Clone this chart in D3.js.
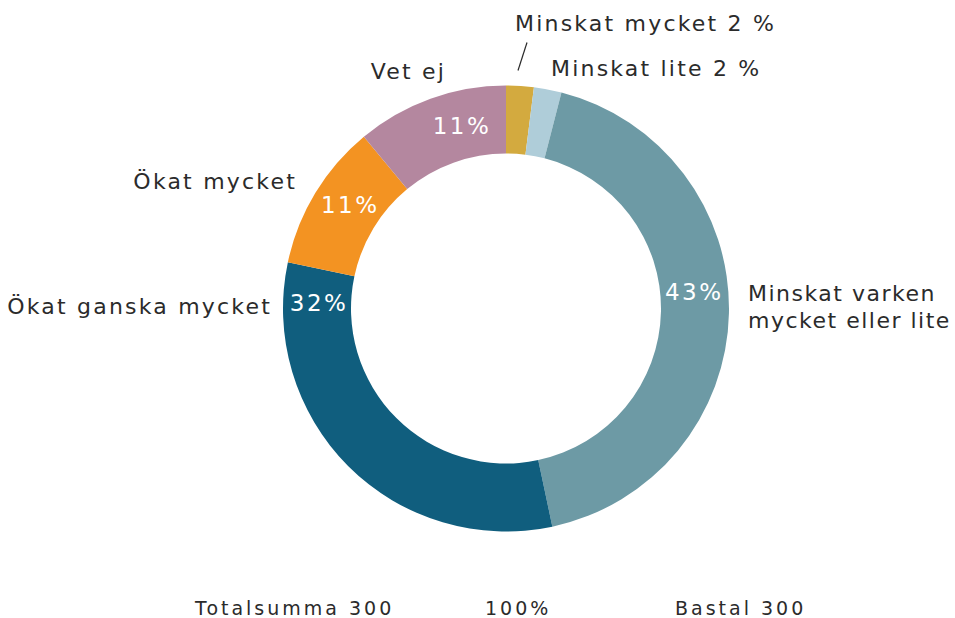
<!DOCTYPE html>
<html lang="sv">
<head>
<meta charset="UTF-8">
<title>Donut</title>
<script src="https://d3js.org/d3.v7.min.js"></script>
<style>
  body { margin: 0; background: #fff; }
  text { font-family: "DejaVu Sans", sans-serif; }
</style>
</head>
<body>
<script>
// data (antal svar av 300)
var categories = ["Minskat mycket", "Minskat lite", "Minskat varken mycket eller lite",
                  "Ökat ganska mycket", "Ökat mycket", "Vet ej"];
var counts = [6, 6, 128, 95, 32, 33];
var pctLabels = ["2 %", "2 %", "43%", "32%", "11%", "11%"];
var colors = ["#d3aa3f", "#afcdd9", "#6d9aa5", "#105e7e", "#f39322", "#b4879f"];
var footer = ["Totalsumma 300", "100%", "Bastal 300"];

var w = 955, h = 618;
var cx = 506, cy = 308.5;
var outerR = 223, innerR = 155;

var svg = d3.select("body").append("svg")
    .attr("width", w).attr("height", h);

var pie = d3.pie().sort(null).value(d => d);
var arc = d3.arc().innerRadius(innerR).outerRadius(outerR);
var arcs = pie(counts);

var g = svg.append("g").attr("transform", "translate(" + cx + "," + cy + ")");

g.selectAll("path")
    .data(arcs)
    .join("path")
    .attr("d", arc)
    .attr("fill", (d, i) => colors[i]);

// inside labels: fraction along the slice where label sits
var insideT = [null, null, 0.46, 0.91, 0.56, 0.65];
var labR = 188;
g.selectAll("text.pct")
    .data(arcs.filter((d, i) => insideT[i] != null))
    .join("text")
    .attr("class", "pct")
    .each(function(d) {
        var t = insideT[d.index];
        var a = d.startAngle + t * (d.endAngle - d.startAngle);
        d3.select(this)
          .attr("x", labR * Math.sin(a) + 1)
          .attr("y", -labR * Math.cos(a) + 8)
          .text(pctLabels[d.index]);
    })
    .attr("text-anchor", "middle")
    .attr("fill", "#fff")
    .style("font-size", "23px")
    .style("letter-spacing", "2.5px");

// outside labels
var textCol = "#2b2b2b";
var outside = [
    {lines: [categories[0] + " " + pctLabels[0]], x: 9, y: -278, anchor: "start", ls: 2.2},
    {lines: [categories[1] + " " + pctLabels[1]], x: 45, y: -233, anchor: "start", ls: 2.2},
    {lines: ["Minskat varken", "mycket eller lite"], x: 242, y: -8, anchor: "start", ls: 1.5},
    {lines: [categories[3]], x: -234, y: 5, anchor: "end", ls: 2.2},
    {lines: [categories[4]], x: -209, y: -120, anchor: "end", ls: 2.2},
    {lines: [categories[5]], x: -60, y: -230, anchor: "end", ls: 2.2}
];
outside.forEach(function(o) {
    var t = g.append("text")
        .attr("text-anchor", o.anchor)
        .attr("fill", textCol)
        .style("font-size", "22px")
        .style("letter-spacing", o.ls + "px");
    o.lines.forEach(function(l, k) {
        t.append("tspan").attr("x", o.x).attr("y", o.y + k * 27).text(l);
    });
});

// leader line for the small slice
g.append("line")
    .attr("x1", 12).attr("y1", -238)
    .attr("x2", 21).attr("y2", -266)
    .attr("stroke", textCol).attr("stroke-width", 1.2);

// footer
svg.selectAll("text.foot")
    .data(footer)
    .join("text")
    .attr("class", "foot")
    .attr("x", (d, i) => [195, 485, 675][i])
    .attr("y", 615)
    .attr("fill", textCol)
    .style("font-size", "19px")
    .style("letter-spacing", "3px")
    .text(d => d);
</script>
</body>
</html>
